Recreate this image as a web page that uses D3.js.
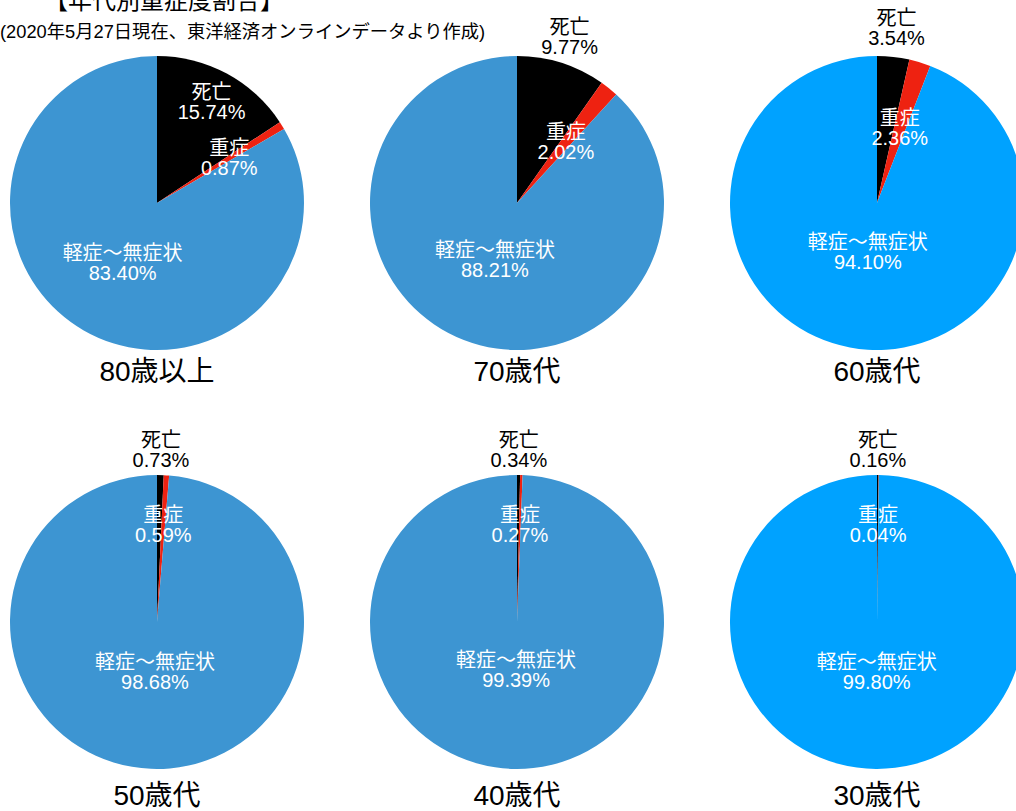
<!DOCTYPE html>
<html>
<head>
<meta charset="UTF-8">
<title>年代別重症度割合</title>
<script src="https://cdn.jsdelivr.net/npm/d3@7"></script>
<style>
  body { margin: 0; background: #fff; }
  svg text { font-family: "Liberation Sans", "Noto Sans CJK JP", sans-serif; }
</style>
</head>
<body>
<script>
// data
var ages = ["80歳以上", "70歳代", "60歳代", "50歳代", "40歳代", "30歳代"];
var categories = ["死亡", "重症", "軽症〜無症状"];
var death  = [15.74, 9.77, 3.54, 0.73, 0.34, 0.16];
var severe = [0.87, 2.02, 2.36, 0.59, 0.27, 0.04];
var mild   = [83.40, 88.21, 94.10, 98.68, 99.39, 99.80];

// layout
var width = 1016, height = 811;
var radius = 147;
var labelRadius = [[115, 85, 69], [174, 78, 61], [176, 78, 50], [172, 97, 50], [172, 97, 48], [172, 97, 50]];
var mildColor = ["#3d95d2", "#3d95d2", "#00a2ff", "#3d95d2", "#3d95d2", "#00a2ff"];

var svg = d3.select("body").append("svg")
    .attr("width", width)
    .attr("height", height);

// title is partly above the top edge, as in the original
svg.append("text")
    .attr("x", 44).attr("y", 9)
    .attr("font-size", 24)
    .attr("fill", "#000")
    .text("【年代別重症度割合】");

svg.append("text")
    .attr("x", 0).attr("y", 38)
    .attr("font-size", 18.3)
    .attr("fill", "#000")
    .text("(2020年5月27日現在、東洋経済オンラインデータより作成)");

var xPos = d3.scalePoint().domain([0, 1, 2]).range([157, 877]);
var yPos = d3.scalePoint().domain([0, 1]).range([203, 622]);

var pie = d3.pie().sort(null).value(function(d) { return d.value; });
var arc = d3.arc().innerRadius(0).outerRadius(radius);

ages.forEach(function(age, i) {
  var cx = xPos(i % 3), cy = yPos(Math.floor(i / 3));
  var rows = [
    {name: categories[0], value: death[i], color: "#000000"},
    {name: categories[1], value: severe[i], color: "#ee2211"},
    {name: categories[2], value: mild[i], color: mildColor[i]}
  ];
  var g = svg.append("g").attr("transform", "translate(" + cx + "," + cy + ")");
  var arcs = pie(rows);

  g.selectAll("path").data(arcs).enter().append("path")
      .attr("d", arc)
      .attr("fill", function(d) { return d.data.color; });

  arcs.forEach(function(d, k) {
    var r = labelRadius[i][k];
    var mid = (d.startAngle + d.endAngle) / 2;
    var lx = Math.sin(mid) * r, ly = -Math.cos(mid) * r;
    var fill = r > radius ? "#000" : "#fff";
    var t = g.append("text")
        .attr("text-anchor", "middle")
        .attr("font-size", 20)
        .attr("fill", fill);
    t.append("tspan").attr("x", lx).attr("y", ly - 3).text(d.data.name);
    t.append("tspan").attr("x", lx).attr("y", ly + 17).text(d.data.value.toFixed(2) + "%");
  });

  g.append("text")
      .attr("x", 0).attr("y", 178 + (i < 3 ? 0 : 5))
      .attr("text-anchor", "middle")
      .attr("font-size", 28)
      .attr("fill", "#000")
      .text(age);
});
</script>
</body>
</html>
